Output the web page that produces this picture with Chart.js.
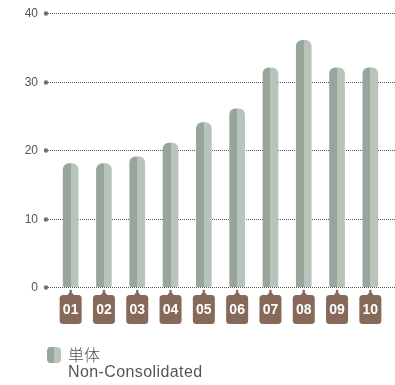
<!DOCTYPE html>
<html>
<head>
<meta charset="utf-8">
<script src="https://cdn.jsdelivr.net/npm/chart.js@4"></script>
<style>
  body { margin: 0; background: #fff; }
  #wrap { position: relative; width: 395px; height: 385px; }
  #legend { position: absolute; left: 47px; top: 345px; font-family: "Liberation Sans", Arial, sans-serif; color: #555; }
  #legend .sw { position: absolute; left: 0; top: 2px; width: 14px; height: 16px; border-radius: 4px;
    background: linear-gradient(to right, #98a59b 0, #98a59b 50%, #b8c4ba 50%, #b8c4ba 100%); }
  #legend .t1 { position: absolute; left: 21px; top: 0; font-size: 16px; line-height: 18px; white-space: nowrap;
    font-family: "Noto Sans CJK JP", sans-serif; font-weight: 300; }
  #legend .t2 { position: absolute; left: 21px; top: 18px; font-size: 16px; line-height: 18px; white-space: nowrap; letter-spacing: 0.4px; }
</style>
</head>
<body>
<div id="wrap">
  <canvas id="chart1" width="395" height="385"></canvas>
  <div id="legend"><div class="sw"></div><div class="t1">単体</div><div class="t2">Non-Consolidated</div></div>
</div>
<script>
const years = ['01', '02', '03', '04', '05', '06', '07', '08', '09', '10'];
const values = [18, 18, 19, 21, 24, 26, 32, 36, 32, 32];
const yTicks = [0, 10, 20, 30, 40];

const brown = '#87695a';
const dark = '#98a59b';
const light = '#b8c4ba';

// grid lines, tick labels and the dots on the axis
const gridPlugin = {
  id: 'grid',
  beforeDatasetsDraw(chart) {
    const ctx = chart.ctx;
    const y = chart.scales.y;
    ctx.save();
    yTicks.forEach(t => {
      const py = Math.round(y.getPixelForValue(t)) + 0.5;
      ctx.strokeStyle = '#555';
      ctx.lineWidth = 1;
      ctx.setLineDash([1, 1]);
      ctx.beginPath();
      ctx.moveTo(46, py);
      ctx.lineTo(395, py);
      ctx.stroke();
      ctx.setLineDash([]);
      ctx.fillStyle = brown;
      ctx.beginPath();
      ctx.arc(46, py, 2.2, 0, Math.PI * 2);
      ctx.fill();
      ctx.fillStyle = '#555';
      ctx.font = '12px "Liberation Sans", Arial, sans-serif';
      ctx.textAlign = 'right';
      ctx.textBaseline = 'middle';
      ctx.fillText(String(t), 38, py);
    });
    ctx.restore();
  },
  afterDatasetsDraw(chart) {
    const ctx = chart.ctx;
    const x = chart.scales.x;
    const top = chart.chartArea.bottom + 8;
    ctx.save();
    years.forEach((lab, i) => {
      const cx = x.getPixelForValue(i);
      const w = 22, h = 29, r = 3.5;
      ctx.fillStyle = brown;
      ctx.beginPath();
      ctx.roundRect(cx - w / 2, top, w, h, r);
      ctx.fill();
      // small tab on top
      ctx.beginPath();
      ctx.moveTo(cx - 4, top + 1);
      ctx.lineTo(cx, top - 4);
      ctx.lineTo(cx + 4, top + 1);
      ctx.closePath();
      ctx.fill();
      ctx.beginPath();
      ctx.arc(cx, top - 4, 1.3, 0, Math.PI * 2);
      ctx.fill();
      ctx.fillStyle = '#fff';
      ctx.font = 'bold 14px "Liberation Sans", Arial, sans-serif';
      ctx.textAlign = 'center';
      ctx.textBaseline = 'middle';
      ctx.fillText(lab, cx, top + h / 2 + 1);
    });
    ctx.restore();
  },
};

const canvas = document.getElementById('chart1').getContext('2d');
const chart = new Chart(canvas, {
  type: 'bar',
  data: {
    labels: years,
    datasets: [
      {
        label: '単体',
        data: values,
        barThickness: 15,
        borderWidth: 0,
        borderSkipped: false,
        borderRadius: { topLeft: 6, topRight: 6, bottomLeft: 2, bottomRight: 2 },
        backgroundColor: c => {
          const ch = c.chart;
          if (!ch.chartArea || c.type !== 'data') return dark;
          const cx = ch.scales.x.getPixelForValue(c.dataIndex);
          const g = ch.ctx.createLinearGradient(cx - 7.5, 0, cx + 7.5, 0);
          g.addColorStop(0, dark);
          g.addColorStop(0.5, dark);
          g.addColorStop(0.5, light);
          g.addColorStop(1, light);
          return g;
        },
      },
    ],
  },
  options: {
    responsive: false,
    animation: false,
    layout: { padding: { left: 54, right: 8, top: 13, bottom: 98 } },
    scales: {
      x: { display: false },
      y: { display: false, min: 0, max: 40 },
    },
    plugins: {
      legend: { display: false },
      tooltip: { enabled: false },
    },
  },
  plugins: [gridPlugin],
});
</script>
</body>
</html>
